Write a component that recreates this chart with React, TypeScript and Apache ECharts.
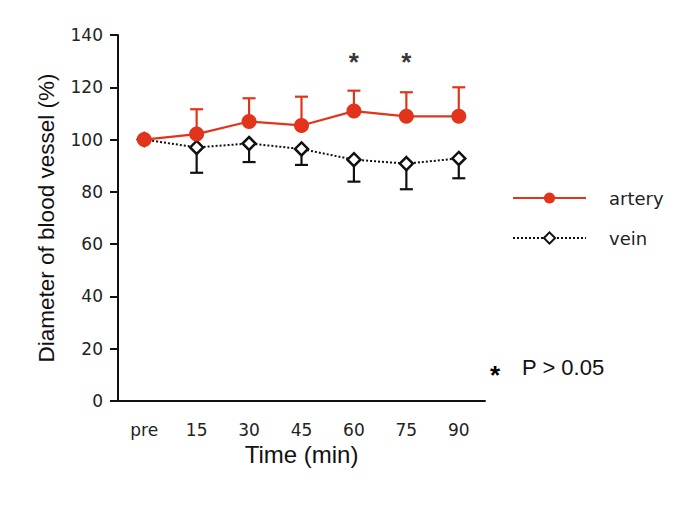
import React, { useEffect, useRef } from 'react';
import * as echarts from 'echarts';

const categories = ['pre', '15', '30', '45', '60', '75', '90'];
const arteryMean = [100, 102.1, 106.9, 105.4, 110.9, 108.9, 108.9];
const arteryUpper = [100, 111.6, 115.8, 116.4, 118.7, 118.1, 120.0];
const veinMean = [100, 97.0, 98.5, 96.4, 92.3, 90.8, 92.8];
const veinLower = [100, 87.3, 91.4, 90.3, 83.9, 81.0, 85.2];
const sigCategories = ['60', '75'];
const sigLevel = 129.7;

const RED = '#e2341b';
const TICK_FONT = 'DejaVu Sans';
const TITLE_FONT = 'Liberation Sans';

function errorBarSeries(name: string, means: number[], ends: number[], color: string) {
  const data = means.map((m, i) => [i, m, ends[i]]).filter((d) => d[1] !== d[2]);
  return {
    type: 'custom',
    name: name + '-err',
    z: 1,
    silent: true,
    data,
    renderItem: (params: any, api: any) => {
      const p0 = api.coord([api.value(0), api.value(1)]);
      const p1 = api.coord([api.value(0), api.value(2)]);
      const half = 6.5;
      const st = { stroke: color, lineWidth: 2.2 };
      return {
        type: 'group',
        children: [
          { type: 'line', shape: { x1: p0[0], y1: p0[1], x2: p1[0], y2: p1[1] }, style: st },
          { type: 'line', shape: { x1: p1[0] - half, y1: p1[1], x2: p1[0] + half, y2: p1[1] }, style: st },
        ],
      };
    },
  };
}

export default function App() {
  const ref = useRef<HTMLDivElement>(null);
  useEffect(() => {
    document.body.style.margin = '0';
    if (!ref.current) return;
    const chart = echarts.init(ref.current, null, { renderer: 'svg' });
    chart.setOption({
      animation: false,
      backgroundColor: '#ffffff',
      grid: { left: 118, right: 200, top: 35, bottom: 104, containLabel: false },
      legend: {
        orient: 'vertical',
        left: 507,
        top: 184,
        itemWidth: 73,
        itemHeight: 14,
        itemGap: 22,
        data: ['artery', 'vein'],
        textStyle: { fontFamily: TICK_FONT, fontSize: 18, color: '#222', padding: [0, 0, 0, 18] },
      },
      xAxis: {
        type: 'category',
        data: categories,
        boundaryGap: true,
        name: 'Time (min)',
        nameLocation: 'middle',
        nameGap: 39,
        nameTextStyle: { fontFamily: TITLE_FONT, fontSize: 24, color: '#111' },
        axisLine: { lineStyle: { color: '#111', width: 2 } },
        axisTick: { alignWithLabel: true, length: 8, lineStyle: { color: '#111', width: 2 } },
        axisLabel: { fontFamily: TICK_FONT, fontSize: 17, color: '#222', margin: 20 },
        splitLine: { show: false },
      },
      yAxis: {
        type: 'value',
        min: 0,
        max: 140,
        interval: 20,
        name: 'Diameter of blood vessel (%)',
        nameLocation: 'middle',
        nameGap: 60,
        nameTextStyle: { fontFamily: TITLE_FONT, fontSize: 22.5, color: '#111' },
        axisLine: { show: true, lineStyle: { color: '#111', width: 2 } },
        axisTick: { show: true, length: 8, lineStyle: { color: '#111', width: 2 } },
        axisLabel: { fontFamily: TICK_FONT, fontSize: 17, color: '#222', margin: 15 },
        splitLine: { show: false },
      },
      graphic: [
        {
          type: 'text',
          left: 490,
          top: 362,
          style: { text: '*', font: 'bold 26px "Liberation Sans"', fill: '#000' },
        },
        {
          type: 'text',
          left: 522,
          top: 356,
          style: { text: 'P > 0.05', font: '22px "Liberation Sans"', fill: '#111' },
        },
      ],
      series: [
        errorBarSeries('vein', veinMean, veinLower, '#111'),
        errorBarSeries('artery', arteryMean, arteryUpper, RED),
        {
          type: 'line',
          name: 'vein',
          z: 3,
          data: veinMean,
          symbol: 'diamond',
          symbolSize: 13,
          showAllSymbol: true,
          lineStyle: { color: '#111', width: 2, type: 'dotted' },
          itemStyle: { color: '#ffffff', borderColor: '#111', borderWidth: 2.5 },
        },
        {
          type: 'line',
          name: 'artery',
          z: 4,
          data: arteryMean,
          symbol: 'circle',
          symbolSize: 15,
          showAllSymbol: true,
          lineStyle: { color: RED, width: 2.2 },
          itemStyle: { color: RED },
        },
        {
          type: 'scatter',
          name: 'significance',
          z: 5,
          silent: true,
          symbolSize: 1,
          itemStyle: { color: 'transparent' },
          data: sigCategories.map((c) => [c, sigLevel]),
          label: {
            show: true,
            position: 'inside',
            formatter: '*',
            fontFamily: TITLE_FONT,
            fontWeight: 'bold',
            fontSize: 26,
            color: '#000',
          },
        },
      ],
    });
    return () => chart.dispose();
  }, []);
  return <div ref={ref} style={{ width: 685, height: 505 }} />;
}
